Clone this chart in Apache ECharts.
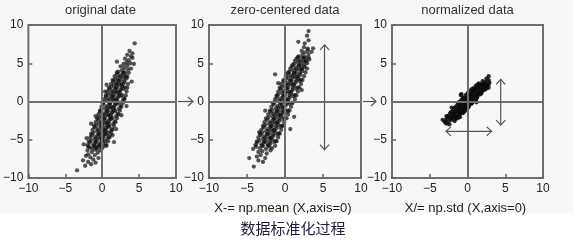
<!DOCTYPE html>
<html><head><meta charset="utf-8">
<script src="https://cdn.jsdelivr.net/npm/echarts@6/dist/echarts.min.js"></script>
<style>html,body{margin:0;padding:0;background:#fff}#c{width:573px;height:243px}</style>
</head><body><div id="c"></div>
<script>
const titles = ['original date', 'zero-centered data', 'normalized data'];
const captions = ['', 'X-= np.mean (X,axis=0)', 'X/= np.std (X,axis=0)'];
const mainCaption = '数据标准化过程';
const axisMin = -10, axisMax = 10, axisStep = 5;

const originalData = [
[-3.4,-9.0],[-2.3,-8.4],[-1.5,-8.2],
[-2.6,-7.7],[-1.9,-7.9],[-1.2,-7.6],[-0.9,-8.0],
[-2.2,-7.1],[-1.6,-7.3],[-1.0,-7.0],[-0.5,-7.4],[-1.9,-6.9],
[-2.0,-6.4],[-1.4,-6.6],[-1.0,-6.3],[-0.6,-6.7],[-0.2,-6.4],[-1.7,-6.0],[-0.8,-6.0],
[-1.9,-5.9],[-1.4,-6.1],[-1.0,-5.8],[-0.7,-6.2],[-0.4,-5.9],[0.0,-6.1],[0.3,-5.8],
[-1.7,-5.4],[-1.2,-5.6],[-0.9,-5.3],[-0.5,-5.7],[-0.2,-5.5],[0.1,-5.3],[0.5,-5.6],
[-1.5,-5.1],[-1.0,-4.9],[-0.7,-5.2],[-0.3,-4.8],[0.0,-5.0],[0.4,-5.15],[0.7,-4.85],
[-1.4,-4.4],[-0.9,-4.6],[-0.5,-4.3],[-0.1,-4.7],[0.2,-4.5],[0.5,-4.3],[0.9,-4.6],
[-1.2,-4.1],[-0.7,-3.9],[-0.3,-4.2],[0.1,-3.8],[0.4,-4.0],[0.7,-4.15],[1.1,-3.9],
[-1.0,-3.4],[-0.6,-3.6],[-0.1,-3.3],[0.2,-3.7],[0.5,-3.5],[0.9,-3.3],[1.3,-3.6],
[-0.8,-3.1],[-0.4,-2.9],[0.1,-3.2],[0.4,-2.8],[0.7,-3.0],[1.0,-3.15],[1.5,-2.9],
[-0.6,-2.4],[-0.2,-2.6],[0.2,-2.3],[0.6,-2.7],[0.9,-2.5],[1.2,-2.3],[1.7,-2.6],
[-0.4,-2.1],[0.0,-1.9],[0.4,-2.2],[0.8,-1.8],[1.1,-2.0],[1.4,-2.15],[1.9,-1.9],
[-0.3,-1.4],[0.2,-1.6],[0.6,-1.3],[0.9,-1.7],[1.3,-1.5],[1.6,-1.3],[2.1,-1.6],
[-0.1,-1.1],[0.4,-0.9],[0.8,-1.2],[1.1,-0.8],[1.5,-1.0],[1.8,-1.15],[2.3,-0.9],
[0.1,-0.4],[0.6,-0.6],[1.0,-0.3],[1.3,-0.7],[1.7,-0.5],[2.0,-0.3],[2.5,-0.6],
[0.2,-0.1],[0.7,0.1],[1.1,-0.2],[1.5,0.2],[1.9,0.0],[2.3,-0.15],[2.8,0.1],
[0.5,0.6],[0.9,0.4],[1.3,0.7],[1.7,0.3],[2.1,0.5],[2.5,0.7],[3.0,0.4],
[0.8,0.9],[1.2,1.1],[1.6,0.8],[1.9,1.2],[2.3,1.0],[2.7,0.85],
[1.0,1.6],[1.4,1.4],[1.8,1.7],[2.1,1.3],[2.5,1.5],[2.9,1.65],
[1.2,1.9],[1.6,2.1],[2.0,1.8],[2.3,2.2],[2.7,2.0],[3.1,1.85],
[1.5,2.6],[1.9,2.4],[2.2,2.7],[2.6,2.3],[3.0,2.5],
[1.7,2.9],[2.1,3.1],[2.5,2.8],[2.9,3.2],[3.3,3.0],
[2.0,3.6],[2.4,3.4],[2.8,3.7],[3.2,3.3],
[2.2,3.9],[2.7,4.1],[3.1,3.8],[3.5,4.2],
[2.5,4.6],[3.0,4.4],[3.4,4.7],[3.9,4.3],
[2.9,4.9],[3.3,5.1],[3.8,5.0],[4.3,4.9],
[3.1,5.6],[3.6,5.4],[4.1,5.7],
[3.4,6.1],[3.9,5.9],[3.7,6.6],[4.1,6.3],[4.4,7.6],
[-2.5,-5.6],[-2.1,-4.8],[1.6,-5.3],[1.9,-3.6],[-1.5,-2.9],[2.6,-1.8],[3.3,-0.6],
[0.6,2.2],[0.4,1.3],[2.0,5.2],[4.0,2.6],[-0.9,-1.9],[1.4,-4.4],
[-2.0,-5.7],[-1.1,-5.8],[-0.3,-5.7],[0.6,-5.8],
[-1.8,-5.2],[-0.9,-5.3],[-0.1,-5.25],[0.8,-5.2],
[-1.6,-4.7],[-0.7,-4.8],[0.1,-4.75],[1.0,-4.7],
[-1.5,-4.2],[-0.5,-4.3],[0.3,-4.25],[1.2,-4.2],
[-1.3,-3.7],[-0.4,-3.8],[0.5,-3.75],[1.4,-3.7],
[-1.1,-3.2],[-0.2,-3.3],[0.7,-3.25],[1.6,-3.2],
[-0.9,-2.7],[0.0,-2.8],[0.9,-2.75],[1.8,-2.7],
[-0.7,-2.2],[0.2,-2.3],[1.1,-2.25],[2.0,-2.2],
[-0.5,-1.7],[0.4,-1.8],[1.2,-1.75],[2.2,-1.7],
[-0.3,-1.2],[0.6,-1.3],[1.4,-1.25],[2.4,-1.2],
[-0.1,-0.7],[0.8,-0.8],[1.6,-0.75],[2.6,-0.7],
[0.05,-0.2],[1.0,-0.3],[1.8,-0.25],[2.8,-0.2],
[0.3,0.3],[1.2,0.2],[2.0,0.25],[3.0,0.3],
[0.5,0.8],[1.4,0.7],[2.2,0.75],[3.2,0.8],
[0.7,1.3],[1.6,1.2],[2.4,1.25],[3.3,1.3],
[0.9,1.8],[1.8,1.7],[2.6,1.75],[3.4,1.8],
[1.2,2.3],[2.0,2.2],[2.8,2.25],[3.5,2.3],
[1.4,2.8],[2.2,2.7],[3.0,2.75],
[1.7,3.3],[2.5,3.2],[3.4,3.25],
[2.0,3.8],[2.9,3.7],[3.6,3.75]
];

const centeredData = [
[-4.1,-8.5],[-3.5,-7.7],[-2.9,-7.9],
[-4.7,-7.4],[-3.7,-7.2],[-3.2,-7.0],[-2.6,-7.4],
[-4.2,-6.2],[-3.5,-6.6],[-3.0,-6.5],[-2.4,-6.8],[-1.9,-6.4],
[-3.8,-5.9],[-3.3,-6.1],[-2.9,-5.8],[-2.5,-6.2],[-2.1,-5.9],[-1.7,-6.1],
[-3.7,-5.4],[-3.1,-5.6],[-2.7,-5.3],[-2.3,-5.7],[-1.9,-5.5],[-1.4,-5.3],
[-3.4,-5.1],[-2.9,-4.9],[-2.5,-5.2],[-2.1,-4.8],[-1.7,-5.0],[-1.2,-5.15],
[-3.2,-4.4],[-2.7,-4.6],[-2.3,-4.3],[-1.9,-4.7],[-1.5,-4.5],[-1.0,-4.3],
[-3.0,-4.1],[-2.5,-3.9],[-2.1,-4.2],[-1.7,-3.8],[-1.3,-4.0],[-0.8,-4.15],
[-2.8,-3.4],[-2.3,-3.6],[-1.9,-3.3],[-1.5,-3.7],[-1.1,-3.5],[-0.6,-3.3],
[-2.6,-3.1],[-2.1,-2.9],[-1.7,-3.2],[-1.3,-2.8],[-0.9,-3.0],[-0.4,-3.15],
[-2.4,-2.4],[-1.9,-2.6],[-1.5,-2.3],[-1.1,-2.7],[-0.7,-2.5],[-0.2,-2.3],
[-2.2,-2.1],[-1.7,-1.9],[-1.3,-2.2],[-0.9,-1.8],[-0.5,-2.0],[0.0,-2.15],
[-1.9,-1.4],[-1.5,-1.6],[-1.1,-1.3],[-0.7,-1.7],[-0.3,-1.5],[0.3,-1.3],
[-1.7,-1.1],[-1.2,-0.9],[-0.8,-1.2],[-0.5,-0.8],[-0.1,-1.0],[0.4,-1.15],
[-1.5,-0.4],[-1.0,-0.6],[-0.6,-0.3],[-0.3,-0.7],[0.1,-0.5],[0.6,-0.3],
[-1.4,-0.1],[-0.8,0.1],[-0.4,-0.2],[0.0,0.2],[0.4,0.0],[0.9,-0.15],
[-1.1,0.6],[-0.6,0.4],[-0.2,0.7],[0.2,0.3],[0.6,0.5],[1.1,0.7],
[-0.9,0.9],[-0.4,1.1],[0.0,0.8],[0.4,1.2],[0.8,1.0],[1.3,0.85],
[-0.6,1.6],[-0.2,1.4],[0.2,1.7],[0.6,1.3],[1.0,1.5],[1.5,1.65],
[-0.4,1.9],[0.0,2.1],[0.4,1.8],[0.8,2.2],[1.2,2.0],[1.7,1.85],
[-0.2,2.6],[0.3,2.4],[0.7,2.7],[1.0,2.3],[1.4,2.5],[1.9,2.7],
[0.1,2.9],[0.5,3.1],[0.9,2.8],[1.3,3.2],[1.7,3.0],[2.1,2.85],
[-1.3,3.55],[0.4,3.6],[0.8,3.4],[1.2,3.7],[1.6,3.3],[2.0,3.5],
[0.6,3.9],[1.1,4.1],[1.5,3.8],[1.9,4.2],[2.3,4.0],
[0.9,4.6],[1.4,4.4],[1.8,4.7],[2.2,4.3],[2.6,4.5],
[1.2,4.9],[1.7,5.1],[2.1,4.8],[2.5,5.2],[2.9,5.0],
[1.5,5.6],[1.9,5.4],[2.3,5.7],[2.7,5.3],[3.2,5.5],
[1.8,5.9],[2.3,6.1],[2.7,5.8],[3.1,6.2],
[2.2,6.6],[2.6,6.4],[3.0,6.7],[3.5,6.5],
[2.5,7.1],[3.0,6.9],[3.7,6.95],
[1.75,7.8],[2.6,7.6],[3.1,8.0],[2.9,8.6],[3.1,9.2],
[-2.6,-1.2],[1.2,-2.0],[-3.4,-4.0],[0.7,-3.6],[2.2,1.5],[-0.9,2.4],
[-3.9,-5.7],[-3.0,-5.8],[-2.2,-5.7],[-1.3,-5.8],
[-3.7,-5.2],[-2.8,-5.3],[-2.0,-5.25],[-1.1,-5.2],
[-3.5,-4.7],[-2.6,-4.8],[-1.8,-4.75],[-0.9,-4.7],
[-3.3,-4.2],[-2.4,-4.3],[-1.6,-4.25],[-0.7,-4.2],
[-3.1,-3.7],[-2.1,-3.8],[-1.4,-3.75],[-0.5,-3.7],
[-2.9,-3.2],[-1.9,-3.3],[-1.2,-3.25],[-0.3,-3.2],
[-2.7,-2.7],[-1.7,-2.8],[-1.0,-2.75],[-0.1,-2.7],
[-2.5,-2.2],[-1.5,-2.3],[-0.8,-2.25],[0.2,-2.2],
[-2.2,-1.7],[-1.3,-1.8],[-0.5,-1.75],[0.4,-1.7],
[-2.0,-1.2],[-1.1,-1.3],[-0.3,-1.25],[0.6,-1.2],
[-1.8,-0.7],[-0.9,-0.8],[-0.1,-0.75],[0.8,-0.7],
[-1.6,-0.2],[-0.6,-0.3],[0.2,-0.25],[1.0,-0.2],
[-1.3,0.3],[-0.4,0.2],[0.4,0.25],[1.3,0.3],
[-1.1,0.8],[-0.2,0.7],[0.6,0.75],[1.5,0.8],
[-0.9,1.3],[0.0,1.2],[0.8,1.25],[1.7,1.3],
[-0.7,1.8],[0.2,1.7],[1.0,1.75],[1.9,1.8],
[-0.5,2.3],[0.4,2.2],[1.2,2.25],[2.1,2.3],
[-0.2,2.8],[0.7,2.7],[1.5,2.75],[2.3,2.8],
[0.1,3.3],[1.0,3.2],[1.7,3.25],[2.5,3.3],
[0.4,3.8],[1.2,3.7],[2.0,3.75],[2.7,3.8],
[0.7,4.3],[1.5,4.2],[2.2,4.25],[2.9,4.3],
[1.0,4.8],[1.8,4.7],[2.5,4.75],
[1.3,5.3],[2.1,5.2],[2.8,5.25],
[1.7,5.8],[2.5,5.7],[3.1,5.75]
];

const normalizedData = [
[-3.3,-2.4],[-2.8,-2.9],[-2.4,-3.0],[-3.0,-2.7],
[-2.9,-2.45],[-2.5,-2.6],[-2.1,-2.4],[-1.7,-2.55],
[-2.7,-2.15],[-2.3,-2.25],[-2.0,-2.1],[-1.6,-2.3],[-1.3,-2.2],
[-2.5,-1.85],[-2.1,-1.95],[-1.8,-1.8],[-1.5,-2.0],[-1.1,-1.9],[-2.8,-1.9],
[-2.3,-1.55],[-1.9,-1.65],[-1.6,-1.5],[-1.3,-1.7],[-0.9,-1.6],[-0.6,-1.5],
[-2.0,-1.25],[-1.6,-1.35],[-1.3,-1.2],[-1.0,-1.4],[-0.7,-1.3],[-0.3,-1.2],
[-1.8,-0.95],[-1.4,-1.05],[-1.1,-0.9],[-0.8,-1.1],[-0.5,-1.0],[-0.1,-0.9],[-2.1,-0.8],
[-1.5,-0.65],[-1.1,-0.75],[-0.8,-0.6],[-0.5,-0.8],[-0.2,-0.7],[0.2,-0.6],
[-1.3,-0.35],[-0.9,-0.45],[-0.5,-0.3],[-0.2,-0.5],[0.1,-0.4],[0.5,-0.3],
[-1.1,-0.05],[-0.6,-0.15],[-0.3,0.0],[0.0,-0.2],[0.4,-0.1],[0.8,0.0],[1.2,-0.1],
[-0.8,0.25],[-0.4,0.15],[0.0,0.3],[0.3,0.1],[0.6,0.2],[1.1,0.3],
[-0.5,0.55],[-0.1,0.45],[0.3,0.6],[0.6,0.4],[0.9,0.5],[1.3,0.6],
[-0.2,0.85],[0.2,0.75],[0.5,0.9],[0.9,0.7],[1.2,0.8],[1.6,0.9],[-0.9,0.85],
[0.1,1.15],[0.5,1.05],[0.8,1.2],[1.2,1.0],[1.5,1.1],[1.9,1.2],
[0.4,1.45],[0.8,1.35],[1.1,1.5],[1.5,1.3],[1.8,1.4],[2.2,1.5],
[0.8,1.75],[1.1,1.65],[1.4,1.8],[1.8,1.6],[2.1,1.7],[2.5,1.8],
[1.1,2.05],[1.5,1.95],[1.8,2.1],[2.1,1.9],[2.5,2.0],[2.8,1.8],
[1.5,2.35],[1.9,2.25],[2.3,2.4],[2.6,2.2],[2.9,2.5],
[2.0,2.65],[2.4,2.55],[2.8,2.8],
[2.5,3.0],[2.8,3.3],[-0.8,0.95],
[-2.6,-2.0],[-2.0,-2.05],[-1.5,-2.1],[-1.0,-2.05],
[-2.2,-1.4],[-1.6,-1.45],[-1.1,-1.5],[-0.5,-1.4],
[-1.7,-0.8],[-1.1,-0.85],[-0.5,-0.9],[0.1,-0.8],
[-1.2,-0.2],[-0.6,-0.25],[0.0,-0.3],[0.6,-0.2],
[-0.6,0.4],[0.0,0.35],[0.6,0.3],[1.2,0.4],
[0.0,1.0],[0.6,0.95],[1.2,0.9],[1.8,1.0],
[0.6,1.6],[1.2,1.55],[1.8,1.5],[2.4,1.6],
[1.3,2.2],[1.8,2.15],[2.3,2.1],[2.8,2.2]
];

const panelData = [originalData, centeredData, normalizedData];
const meanArrow = [[5.2, 7.4], [5.2, -6.3]];
const stdArrowV = [[4.4, 2.9], [4.4, -3.1]];
const stdArrowH = [[-2.85, -3.9], [3.2, -3.9]];

const FONT = '"Liberation Sans", Arial, sans-serif';
const grids = [
  {left: 25, top: 25, width: 151, height: 153},
  {left: 209, top: 25, width: 152, height: 153},
  {left: 392, top: 25, width: 151, height: 153}
];
const fmt = v => String(v).replace('-', '\u2212');

const chart = echarts.init(document.getElementById('c'));
const axisCommon = (i) => ({
  type: 'value', gridIndex: i, min: axisMin, max: axisMax, interval: axisStep,
  axisLine: {show: false, onZero: false},
  axisTick: {show: true, inside: true, length: 4, lineStyle: {color: '#666', width: 1.5}},
  axisLabel: {fontSize: 12, color: '#222', margin: 5, fontFamily: FONT, formatter: fmt},
  splitLine: {show: false}
});

const series = [];
[0,1,2].forEach(i => {
  series.push({
    type: 'scatter', xAxisIndex: i, yAxisIndex: i, data: [], z: 1, silent: true,
    markLine: {
      silent: true, symbol: 'none', label: {show: false},
      lineStyle: {color: '#6e6e6e', width: 2, type: 'solid'},
      data: [{xAxis: 0}, {yAxis: 0}]
    }
  });
});
panelData.forEach((d, i) => {
  series.push({
    type: 'scatter', xAxisIndex: i, yAxisIndex: i, data: d, z: 3,
    symbolSize: 4.3,
    itemStyle: {borderWidth: 0, opacity: 1, color: i === 2 ? 'rgba(10,10,10,0.85)' : 'rgba(20,20,20,0.72)'}
  });
});

chart.setOption({
  animation: false,
  backgroundColor: '#ffffff',
  grid: grids.map(g => Object.assign({show: true, borderColor: '#6e6e6e', borderWidth: 2, backgroundColor: 'transparent'}, g)),
  xAxis: [0,1,2].map(i => axisCommon(i)),
  yAxis: [0,1,2].map(i => axisCommon(i)),
  series: series
});

function arrow(p1, p2, both) {
  const dx = p2[0]-p1[0], dy = p2[1]-p1[1];
  const L = Math.hypot(dx, dy), ux = dx/L, uy = dy/L, nx = -uy, ny = ux;
  const d = 5, w = 4.5;
  const st = {stroke: '#555', lineWidth: 1.2, fill: null};
  const els = [{type: 'polyline', shape: {points: [p1, p2]}, style: st, z: 50}];
  els.push({type: 'polyline', shape: {points: [
    [p2[0]-ux*d+nx*w, p2[1]-uy*d+ny*w], p2, [p2[0]-ux*d-nx*w, p2[1]-uy*d-ny*w]]}, style: st, z: 50});
  if (both) {
    els.push({type: 'polyline', shape: {points: [
      [p1[0]+ux*d+nx*w, p1[1]+uy*d+ny*w], p1, [p1[0]+ux*d-nx*w, p1[1]+uy*d-ny*w]]}, style: st, z: 50});
  }
  return els;
}

const px = (gi, v) => chart.convertToPixel({gridIndex: gi}, v);
let graphics = [{type: 'rect', shape: {x: 0, y: 0, width: 573, height: 213}, style: {fill: '#f7f7f7'}, z: -100, silent: true}];
graphics = graphics.concat(arrow(px(1, meanArrow[0]), px(1, meanArrow[1]), true));
graphics = graphics.concat(arrow(px(2, stdArrowV[0]), px(2, stdArrowV[1]), true));
graphics = graphics.concat(arrow(px(2, stdArrowH[0]), px(2, stdArrowH[1]), true));
for (let i = 0; i < 2; i++) {
  const y0 = px(i, [0, 0])[1];
  const xs = grids[i].left + grids[i].width + 2;
  const xe = grids[i+1].left - 16;
  graphics = graphics.concat(arrow([xs, y0], [xe, y0], false));
}
grids.forEach((g, i) => {
  const cx = g.left + g.width / 2;
  graphics.push({type: 'text', x: cx, y: 10, style: {text: titles[i], font: '13px ' + FONT, fill: '#333', textAlign: 'center', textVerticalAlign: 'middle'}});
  if (captions[i]) {
    graphics.push({type: 'text', x: cx - 2, y: 208, style: {text: captions[i], font: '13px ' + FONT, fill: '#222', textAlign: 'center', textVerticalAlign: 'middle'}});
  }
});
graphics.push({type: 'text', x: 293, y: 228, style: {text: mainCaption, font: '15px "Noto Sans CJK SC", sans-serif', fill: '#1f1f3a', textAlign: 'center', textVerticalAlign: 'middle'}});
chart.setOption({graphic: graphics});
</script>
</body></html>
